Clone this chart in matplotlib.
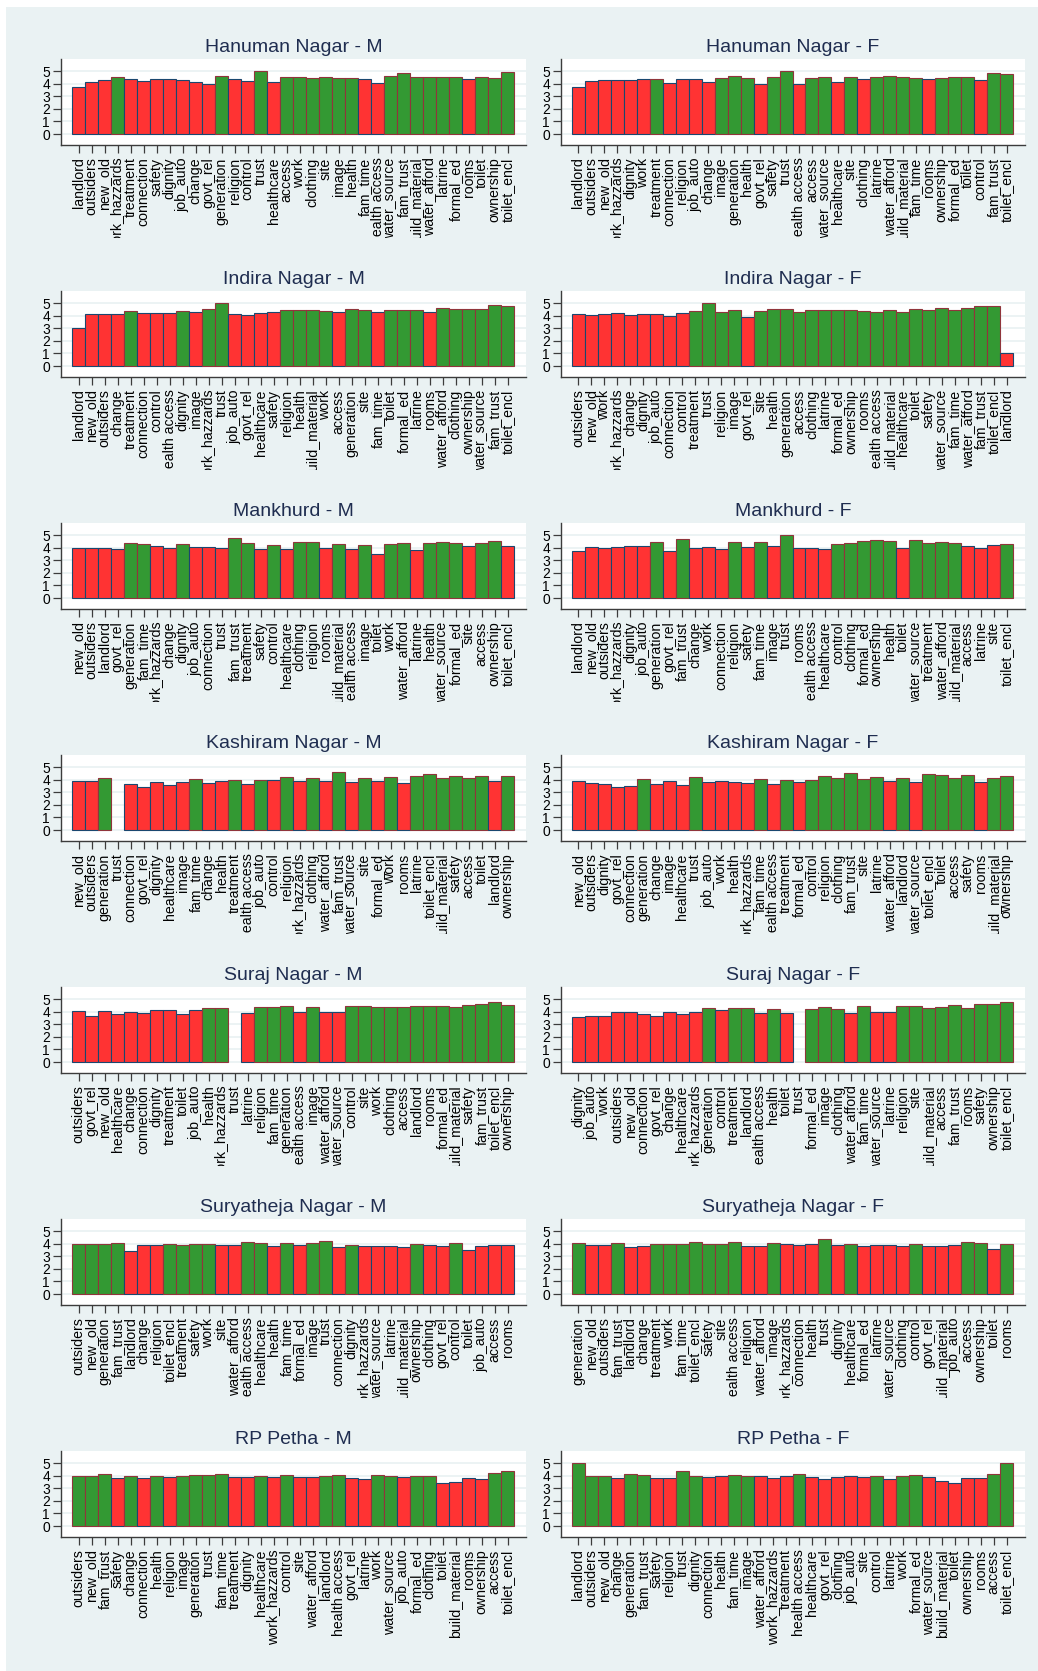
import numpy as np
import matplotlib
matplotlib.use("Agg")
import matplotlib.pyplot as plt
from matplotlib.patches import Rectangle
from matplotlib.transforms import Bbox, TransformedBbox

plt.rcParams["font.family"] = ["Liberation Sans", "DejaVu Sans"]

nan = np.nan

# ---------------------------------------------------------------------------
# Mean scores per item (R = below benchmark, G = above benchmark)
# ---------------------------------------------------------------------------
hanuman_m_cats = ["landlord", "outsiders", "new_old", "work_hazzards", "treatment", "connection",
                  "safety", "dignity", "job_auto", "change", "govt_rel", "generation", "religion",
                  "control", "trust", "healthcare", "access", "work", "clothing", "site", "image",
                  "health", "fam_time", "health access", "water_source", "fam_trust",
                  "build_material", "water_afford", "latrine", "formal_ed", "rooms", "toilet",
                  "ownership", "toilet_encl"]
hanuman_m_vals = [3.72, 4.18, 4.28, 4.52, 4.36, 4.23, 4.39, 4.41, 4.28, 4.18, 4.02, 4.63, 4.36,
                  4.23, 5.00, 4.12, 4.52, 4.57, 4.44, 4.52, 4.47, 4.47, 4.39, 4.07, 4.65, 4.84,
                  4.52, 4.57, 4.57, 4.52, 4.36, 4.52, 4.49, 4.92]
hanuman_m_flag = "RRRGRRRRRRRGRRGRGGGGGGRRGGGGGGRGGG"

hanuman_f_cats = ["landlord", "outsiders", "new_old", "work_hazzards", "dignity", "work",
                  "treatment", "connection", "religion", "job_auto", "change", "image",
                  "generation", "health", "govt_rel", "safety", "trust", "health access", "access",
                  "water_source", "healthcare", "site", "clothing", "latrine", "water_afford",
                  "build_material", "fam_time", "rooms", "ownership", "formal_ed", "toilet",
                  "control", "fam_trust", "toilet_encl"]
hanuman_f_vals = [3.75, 4.20, 4.28, 4.28, 4.34, 4.39, 4.41, 4.10, 4.41, 4.36, 4.12, 4.44, 4.60,
                  4.44, 3.96, 4.52, 5.00, 4.02, 4.47, 4.55, 4.15, 4.52, 4.39, 4.52, 4.60, 4.52,
                  4.44, 4.36, 4.47, 4.55, 4.55, 4.31, 4.89, 4.81]
hanuman_f_flag = "RRRRRRGRRRRGGGRGGRGGRGRGGGGRGGGRGG"

indira_m_cats = ["landlord", "new_old", "outsiders", "change", "treatment", "connection", "control",
                 "health access", "dignity", "image", "work_hazzards", "trust", "job_auto",
                 "govt_rel", "healthcare", "safety", "religion", "health", "build_material",
                 "work", "access", "generation", "site", "fam_time", "toilet", "formal_ed",
                 "latrine", "rooms", "water_afford", "clothing", "ownership", "water_source",
                 "fam_trust", "toilet_encl"]
indira_m_vals = [3.00, 4.18, 4.18, 4.18, 4.41, 4.23, 4.23, 4.23, 4.41, 4.34, 4.55, 5.00, 4.18,
                 4.10, 4.23, 4.31, 4.44, 4.49, 4.49, 4.41, 4.34, 4.57, 4.44, 4.34, 4.44, 4.49,
                 4.47, 4.34, 4.65, 4.52, 4.55, 4.57, 4.87, 4.81]
indira_m_flag = "RRRRGRRRGRGGRRRRGGGGRGGRGGGRGGGGGG"

indira_f_cats = ["outsiders", "new_old", "work", "work_hazzards", "change", "dignity", "job_auto",
                 "connection", "control", "treatment", "trust", "religion", "image", "govt_rel",
                 "site", "health", "generation", "access", "clothing", "latrine", "formal_ed",
                 "ownership", "rooms", "health access", "build_material", "healthcare", "toilet",
                 "safety", "water_source", "fam_time", "water_afford", "fam_trust",
                 "toilet_encl", "landlord"]
indira_f_vals = [4.12, 4.10, 4.12, 4.20, 4.10, 4.18, 4.18, 4.02, 4.23, 4.39, 5.00, 4.34, 4.44,
                 3.94, 4.39, 4.52, 4.57, 4.34, 4.49, 4.49, 4.47, 4.49, 4.36, 4.34, 4.47, 4.34,
                 4.52, 4.44, 4.60, 4.49, 4.63, 4.81, 4.79, 1.00]
indira_f_flag = "RRRRRRRRRGGGGRGGGGGGGGGGGGGGGGGGGR"

mankhurd_m_cats = ["new_old", "outsiders", "landlord", "govt_rel", "generation", "fam_time",
                   "work_hazzards", "change", "dignity", "job_auto", "connection", "trust",
                   "fam_trust", "treatment", "safety", "control", "healthcare", "clothing",
                   "religion", "rooms", "build_material", "health access", "image", "toilet",
                   "work", "water_afford", "latrine", "health", "water_source", "formal_ed",
                   "site", "access", "ownership", "toilet_encl"]
mankhurd_m_vals = [4.02, 3.96, 3.99, 3.91, 4.41, 4.28, 4.12, 3.99, 4.34, 4.10, 4.10, 3.99, 4.76,
                   4.36, 3.88, 4.23, 3.88, 4.44, 4.44, 3.99, 4.34, 3.88, 4.20, 3.51, 4.28, 4.39,
                   3.86, 4.39, 4.47, 4.36, 4.12, 4.36, 4.55, 4.12]
mankhurd_m_flag = "RRRRGGRRGRRRGGRGRGGRGRGRGGRGGGRGGR"

mankhurd_f_cats = ["landlord", "new_old", "outsiders", "work_hazzards", "dignity", "job_auto",
                   "generation", "govt_rel", "fam_trust", "change", "work", "connection",
                   "religion", "safety", "fam_time", "image", "trust", "rooms", "health access",
                   "healthcare", "control", "clothing", "formal_ed", "ownership", "health",
                   "toilet", "water_source", "treatment", "water_afford", "build_material",
                   "access", "latrine", "site", "toilet_encl"]
mankhurd_f_vals = [3.75, 4.04, 4.02, 4.04, 4.18, 4.12, 4.47, 3.72, 4.68, 4.02, 4.04, 3.94, 4.44,
                   4.10, 4.44, 4.12, 5.00, 4.02, 4.02, 3.94, 4.28, 4.36, 4.52, 4.60, 4.52, 4.02,
                   4.60, 4.39, 4.49, 4.36, 4.12, 3.99, 4.20, 4.28]
mankhurd_f_flag = "RRRRRRGRGRRRGRGRGRRRGGGGGRGGGGRRRG"

kashiram_m_cats = ["new_old", "outsiders", "generation", "trust", "connection", "govt_rel",
                   "dignity", "healthcare", "image", "fam_time", "change", "health", "treatment",
                   "health access", "job_auto", "control", "religion", "work_hazzards",
                   "clothing", "water_afford", "fam_trust", "water_source", "site", "formal_ed",
                   "work", "rooms", "latrine", "toilet_encl", "build_material", "safety",
                   "access", "toilet", "landlord", "ownership"]
kashiram_m_vals = [3.94, 3.94, 4.15, nan, 3.67, 3.43, 3.86, 3.59, 3.83, 4.07, 3.75, 3.88, 4.02,
                   3.64, 4.02, 3.99, 4.26, 3.88, 4.18, 3.94, 4.65, 3.86, 4.15, 3.88, 4.20, 3.72,
                   4.28, 4.44, 4.12, 4.34, 4.12, 4.34, 3.91, 4.34]
kashiram_m_flag = "RRGGRRRRRGRRGRGRGRGRGRGRGRGGGGGGRG"

kashiram_f_cats = ["new_old", "outsiders", "dignity", "govt_rel", "connection", "generation",
                   "change", "image", "healthcare", "trust", "job_auto", "work", "health",
                   "work_hazzards", "fam_time", "health access", "treatment", "formal_ed",
                   "control", "religion", "clothing", "fam_trust", "site", "latrine",
                   "water_afford", "landlord", "water_source", "toilet_encl", "toilet", "access",
                   "safety", "rooms", "build_material", "ownership"]
kashiram_f_vals = [3.88, 3.78, 3.64, 3.43, 3.54, 4.07, 3.67, 3.88, 3.56, 4.23, 3.80, 3.91, 3.86,
                   3.75, 4.07, 3.64, 3.99, 3.83, 3.99, 4.34, 4.12, 4.55, 4.10, 4.26, 3.91, 4.12,
                   3.83, 4.49, 4.39, 4.18, 4.39, 3.80, 4.18, 4.31]
kashiram_f_flag = "RRRRRGRRRGRRRRGRGRGGGGGGRGRGGGGRGG"

suraj_m_cats = ["outsiders", "govt_rel", "new_old", "healthcare", "change", "connection",
                "dignity", "treatment", "toilet", "job_auto", "health", "work_hazzards", "trust",
                "latrine", "religion", "fam_time", "generation", "health access", "image",
                "water_afford", "water_source", "control", "site", "work", "clothing", "access",
                "landlord", "rooms", "formal_ed", "build_material", "safety", "fam_trust",
                "toilet_encl", "ownership"]
suraj_m_vals = [4.07, 3.64, 4.10, 3.86, 3.99, 3.94, 4.18, 4.18, 3.86, 4.18, 4.34, 4.34, nan,
                3.88, 4.36, 4.41, 4.49, 3.99, 4.36, 4.02, 4.02, 4.44, 4.49, 4.41, 4.41, 4.41,
                4.49, 4.44, 4.44, 4.36, 4.52, 4.65, 4.76, 4.57]
suraj_m_flag = "RRRRRRRRRRGGGRGGGRGRRGGGGGGGGGGGGG"

suraj_f_cats = ["dignity", "job_auto", "work", "outsiders", "new_old", "connection", "govt_rel",
                "change", "healthcare", "work_hazzards", "generation", "control", "treatment",
                "landlord", "health access", "health", "toilet", "trust", "formal_ed", "image",
                "clothing", "water_afford", "fam_time", "water_source", "latrine", "religion",
                "site", "build_material", "access", "fam_trust", "rooms", "safety", "ownership",
                "toilet_encl"]
suraj_f_vals = [3.59, 3.67, 3.70, 3.96, 4.02, 3.80, 3.64, 3.96, 3.83, 4.02, 4.28, 4.12, 4.28,
                4.34, 3.91, 4.26, 3.94, nan, 4.20, 4.39, 4.20, 3.94, 4.44, 3.96, 3.96, 4.49,
                4.44, 4.34, 4.36, 4.52, 4.34, 4.60, 4.60, 4.81]
suraj_f_flag = "RRRRRRRRRRGRGGRGRGGGGRGRRGGGGGGGGG"

surya_m_cats = ["outsiders", "new_old", "generation", "fam_trust", "landlord", "change",
                "religion", "toilet_encl", "treatment", "safety", "work", "site", "water_afford",
                "health access", "healthcare", "health", "fam_time", "formal_ed", "image",
                "trust", "connection", "dignity", "work_hazzards", "water_source", "latrine",
                "build_material", "ownership", "clothing", "govt_rel", "control", "toilet",
                "job_auto", "access", "rooms"]
surya_m_vals = [3.99, 3.96, 3.96, 4.07, 3.46, 3.91, 3.88, 3.96, 3.91, 3.96, 3.96, 3.91, 3.88,
                4.12, 4.04, 3.86, 4.07, 3.91, 4.04, 4.20, 3.75, 3.91, 3.83, 3.83, 3.83, 3.75,
                3.99, 3.88, 3.86, 4.04, 3.51, 3.86, 3.88, 3.91]
surya_m_flag = "GGGGRRRGGGGRRGGRGRGGRGRRRRGRRGRRRR"

surya_f_cats = ["generation", "new_old", "outsiders", "fam_trust", "landlord", "change",
                "treatment", "work", "fam_time", "toilet_encl", "safety", "site", "health access",
                "religion", "water_afford", "image", "work_hazzards", "connection", "health",
                "trust", "dignity", "healthcare", "formal_ed", "latrine", "water_source",
                "clothing", "control", "govt_rel", "build_material", "job_auto", "access",
                "ownership", "toilet", "rooms"]
surya_f_vals = [4.04, 3.91, 3.91, 4.04, 3.72, 3.83, 3.96, 3.96, 3.99, 4.12, 3.96, 3.99, 4.12,
                3.83, 3.86, 4.04, 3.96, 3.91, 3.96, 4.41, 3.91, 3.96, 3.86, 3.88, 3.88, 3.86,
                4.02, 3.80, 3.80, 3.91, 4.12, 4.04, 3.56, 3.96]
surya_f_flag = "GRRGRRGGGGGGGRRGRRRGRGRRRRGRRRGGRG"

rp_m_cats = ["outsiders", "new_old", "fam_trust", "safety", "change", "connection", "health",
             "religion", "image", "generation", "trust", "fam_time", "treatment", "dignity",
             "healthcare", "work_hazzards", "control", "site", "water_afford", "landlord",
             "health access", "govt_rel", "latrine", "work", "water_source", "job_auto",
             "formal_ed", "clothing", "toilet", "build_material", "rooms", "ownership", "access",
             "toilet_encl"]
rp_m_vals = [4.02, 4.02, 4.18, 3.83, 3.99, 3.80, 3.96, 3.88, 3.96, 4.07, 4.07, 4.12, 3.94, 3.94,
             3.99, 3.94, 4.04, 3.94, 3.88, 3.99, 4.07, 3.83, 3.75, 4.04, 3.99, 3.88, 3.96, 3.96,
             3.41, 3.48, 3.80, 3.72, 4.20, 4.36]
rp_m_flag = "GGGRGRGRGGGGRRGRGRRGGRRGGRGGRRRRGG"

rp_f_cats = ["landlord", "outsiders", "new_old", "change", "generation", "fam_trust", "safety",
             "religion", "trust", "dignity", "connection", "health", "fam_time", "image",
             "water_afford", "work_hazzards", "treatment", "health access", "healthcare",
             "govt_rel", "clothing", "job_auto", "site", "control", "latrine", "work",
             "formal_ed", "water_source", "build_material", "toilet", "ownership", "rooms",
             "access", "toilet_encl"]
rp_f_vals = [5.00, 4.02, 4.02, 3.83, 4.12, 4.07, 3.83, 3.83, 4.36, 4.02, 3.88, 3.99, 4.07, 4.02,
             3.96, 3.83, 3.96, 4.12, 3.94, 3.72, 3.88, 3.96, 3.91, 4.02, 3.75, 4.02, 4.04, 3.94,
             3.56, 3.41, 3.86, 3.86, 4.15, 5.00]
rp_f_flag = "GGGRGGRRGGRRGGRRRGRRRRRGRGGRRRRRGG"

panels = [
    ("Hanuman Nagar - M", hanuman_m_cats, hanuman_m_vals, hanuman_m_flag),
    ("Hanuman Nagar - F", hanuman_f_cats, hanuman_f_vals, hanuman_f_flag),
    ("Indira Nagar - M", indira_m_cats, indira_m_vals, indira_m_flag),
    ("Indira Nagar - F", indira_f_cats, indira_f_vals, indira_f_flag),
    ("Mankhurd - M", mankhurd_m_cats, mankhurd_m_vals, mankhurd_m_flag),
    ("Mankhurd - F", mankhurd_f_cats, mankhurd_f_vals, mankhurd_f_flag),
    ("Kashiram Nagar - M", kashiram_m_cats, kashiram_m_vals, kashiram_m_flag),
    ("Kashiram Nagar - F", kashiram_f_cats, kashiram_f_vals, kashiram_f_flag),
    ("Suraj Nagar - M", suraj_m_cats, suraj_m_vals, suraj_m_flag),
    ("Suraj Nagar - F", suraj_f_cats, suraj_f_vals, suraj_f_flag),
    ("Suryatheja Nagar - M", surya_m_cats, surya_m_vals, surya_m_flag),
    ("Suryatheja Nagar - F", surya_f_cats, surya_f_vals, surya_f_flag),
    ("RP Petha - M", rp_m_cats, rp_m_vals, rp_m_flag),
    ("RP Petha - F", rp_f_cats, rp_f_vals, rp_f_flag),
]

# ---------------------------------------------------------------------------
# Styling
# ---------------------------------------------------------------------------
W, H = 1038, 1671
BG = "#eaf2f3"
RED, GREEN = "#ff3333", "#339933"
RED_EDGE, GREEN_EDGE = "#1a476f", "#90353b"
AXIS_COL = "#3c3c3c"
TITLE_COL = "#1f2d50"
ROW_STEP = 232

fig = plt.figure(figsize=(W / 100, H / 100), dpi=100, facecolor="white")
fig.patches.append(Rectangle((6 / W, 0), 1 - 6 / W, 1 - 7 / H, transform=fig.transFigure,
                             facecolor=BG, edgecolor="none", zorder=-10))

for i, (title, cats, vals, flag) in enumerate(panels):
    row, col = divmod(i, 2)
    left_px = 61 if col == 0 else 561
    width_px = 465 if col == 0 else 464
    top_px = 59 + ROW_STEP * row
    bot_px = 145 + ROW_STEP * row
    ax = fig.add_axes([left_px / W, 1 - bot_px / H, width_px / W, (bot_px - top_px) / H])
    ax.set_facecolor("white")

    n = len(cats)
    x = np.arange(n)
    vals = np.asarray(vals, dtype=float)
    face = [RED if f == "R" else GREEN for f in flag]
    edge = [RED_EDGE if f == "R" else GREEN_EDGE for f in flag]
    ax.bar(x, vals, width=1.0, color=face, edgecolor=edge, linewidth=0.8, zorder=2)

    ax.set_xlim(-0.5 - 11 / 13, n - 0.5 + 12 / 13)
    ax.set_ylim(-0.877, 5.98)
    ax.set_yticks(range(6))
    ax.yaxis.grid(True, color=BG, linewidth=1.3, zorder=0)
    ax.set_axisbelow(True)

    for s in ("top", "right"):
        ax.spines[s].set_visible(False)
    for s in ("left", "bottom"):
        ax.spines[s].set_color(AXIS_COL)
        ax.spines[s].set_linewidth(1.0)

    ax.tick_params(axis="y", direction="out", length=6, width=0.9, color=AXIS_COL,
                   labelsize=10, pad=2)
    ax.set_xticks(x)
    ax.set_xticklabels(cats, rotation=90, fontsize=10.2, ha="center", va="top")
    ax.tick_params(axis="x", direction="out", length=6, width=0.9, color=AXIS_COL, pad=3)

    # labels of upper rows disappear behind the next row's panel
    if row < 6:
        clip_y = 1 - (238 + ROW_STEP * row) / H
        clip = TransformedBbox(Bbox([[0, clip_y], [1, 1]]), fig.transFigure)
        for lab in ax.get_xticklabels():
            lab.set_clip_on(True)
            lab.set_clip_box(clip)

    fig.text((left_px + width_px / 2) / W, 1 - (52 + ROW_STEP * row) / H, title,
             ha="center", va="baseline", fontsize=14, color=TITLE_COL)

fig.savefig("out.png", dpi=100, facecolor="white")
